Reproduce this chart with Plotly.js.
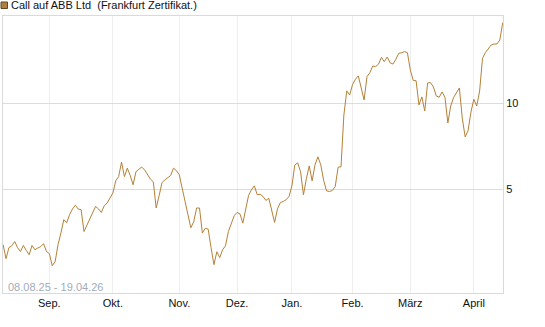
<!DOCTYPE html>
<html>
<head>
<meta charset="utf-8">
<script src="https://cdn.plot.ly/plotly-3.0.1.min.js"></script>
<style>
html,body{margin:0;padding:0;background:#fff;}
#chart{width:545px;height:327px;}
</style>
</head>
<body>
<div id="chart"></div>
<script>
// Series name and period
const seriesName = "Call auf ABB Ltd  (Frankfurt Zertifikat.)";
const periodLabel = "08.08.25 - 19.04.26";
const startDate = "2025-08-08";
// Exchange holidays (no trading)
const holidays = ["2025-12-24","2025-12-25","2025-12-26","2025-12-31","2026-01-01","2026-04-03","2026-04-06"];
// Month tick labels (German)
const monthLabels = ["Sep.","Okt.","Nov.","Dez.","Jan.","Feb.","März","April"];
// Y axis ticks
const yTicks = [5, 10];
// Daily closing values (one per trading day)
const values = [
  1.76,0.95,1.59,1.70,1.95,1.59,1.37,1.72,1.43,1.18,
  1.72,1.47,1.57,1.65,1.82,1.37,1.24,0.54,0.77,1.76,
  2.44,3.22,3.04,3.51,3.84,4.06,3.84,3.80,2.53,2.92,
  3.26,3.62,3.99,3.85,3.64,4.03,4.19,4.48,4.77,5.48,
  5.73,6.57,5.73,6.22,5.80,5.25,6.01,6.16,6.28,6.12,
  5.83,5.58,5.42,3.90,4.61,5.37,5.54,5.69,5.79,6.22,
  6.08,5.83,4.96,4.28,3.51,2.75,3.10,3.90,3.90,2.44,
  2.72,2.67,1.59,0.60,1.35,1.01,1.47,1.70,2.53,2.98,
  3.45,3.64,3.56,3.02,3.91,4.64,4.96,5.19,4.67,4.70,
  4.57,4.34,4.47,3.76,3.06,3.85,4.22,4.28,4.38,4.57,
  5.19,6.41,6.53,6.01,4.67,5.60,6.35,5.48,6.41,6.88,
  6.41,5.50,4.90,4.86,4.92,5.15,6.28,6.30,9.32,10.72,
  10.48,11.09,11.40,11.59,10.87,10.19,11.55,11.78,12.17,12.13,
  12.28,12.67,12.42,12.69,12.36,12.28,12.56,12.91,12.94,13.01,
  12.94,11.94,11.33,11.31,9.90,10.37,9.55,11.18,11.20,10.95,
  10.42,10.35,10.66,10.35,8.85,9.84,10.34,10.66,10.89,9.13,
  8.04,8.40,9.49,10.23,9.84,10.71,12.62,12.95,13.20,13.39,
  13.45,13.45,13.68,14.69
];

// Build trading-day dates (weekdays minus holidays)
function fmt(d){ return d.toISOString().slice(0,10); }
const dates = [];
const d = new Date(startDate + "T00:00:00Z");
while (dates.length < values.length) {
  const s = fmt(d), wd = d.getUTCDay();
  if (wd !== 0 && wd !== 6 && holidays.indexOf(s) < 0) dates.push(s);
  d.setUTCDate(d.getUTCDate() + 1);
}
// First trading day of each month (after the start month)
const tickVals = [];
for (let i = 1; i < dates.length; i++) {
  if (dates[i].slice(0,7) !== dates[i-1].slice(0,7)) tickVals.push(dates[i]);
}

const lineColor = "rgb(181,129,56)";
const font = "Liberation Sans, Arial, sans-serif";
const W = 545, H = 327, mL = 3, mR = 42, mT = 16, mB = 34;
const pw = W - mL - mR, ph = H - mT - mB;
const px2x = p => (p - mL) / pw;
const py2y = p => (H - mB - p) / ph;

const trace = {
  x: dates, y: values, type: "scatter", mode: "lines",
  line: {color: lineColor, width: 1}, showlegend: false, hoverinfo: "x+y"
};

const layout = {
  width: W, height: H,
  margin: {l: mL, r: mR, t: mT, b: mB, pad: 0},
  paper_bgcolor: "#fff", plot_bgcolor: "#fff",
  font: {family: font, size: 11, color: "#111"},
  xaxis: {
    type: "category",
    range: [-0.05, values.length - 1 + 0.1],
    tickvals: tickVals, ticktext: monthLabels.slice(0, tickVals.length),
    showgrid: true, gridcolor: "#eeeeee", gridwidth: 1,
    showline: true, linecolor: "#dadada", linewidth: 1, mirror: true,
    ticks: "", zeroline: false, tickfont: {size: 11, color: "#111"}
  },
  yaxis: {
    side: "right",
    range: [-1.05, 15.08],
    tickvals: yTicks, ticktext: yTicks.map(String),
    showgrid: true, gridcolor: "#dcdcdc", gridwidth: 1,
    showline: true, linecolor: "#dadada", linewidth: 1, mirror: true,
    ticks: "", zeroline: false, tickfont: {size: 11, color: "#111"}
  },
  shapes: [{
    type: "rect", xref: "paper", yref: "paper",
    x0: px2x(1), x1: px2x(7.5), y0: py2y(8.5), y1: py2y(2),
    fillcolor: "rgb(178,128,62)", line: {color: "rgb(95,72,40)", width: 1}
  }],
  annotations: [
    {text: seriesName, xref: "paper", yref: "paper", x: px2x(8.5), y: py2y(5.5),
     xanchor: "left", yanchor: "middle", showarrow: false,
     font: {family: font, size: 11, color: "#111"}},
    {text: periodLabel, xref: "paper", yref: "paper", x: px2x(6), y: py2y(287),
     xanchor: "left", yanchor: "middle", showarrow: false,
     font: {family: font, size: 11, color: "#a3acbb"}}
  ]
};

Plotly.newPlot("chart", [trace], layout, {displayModeBar: false, staticPlot: true});
</script>
</body>
</html>
